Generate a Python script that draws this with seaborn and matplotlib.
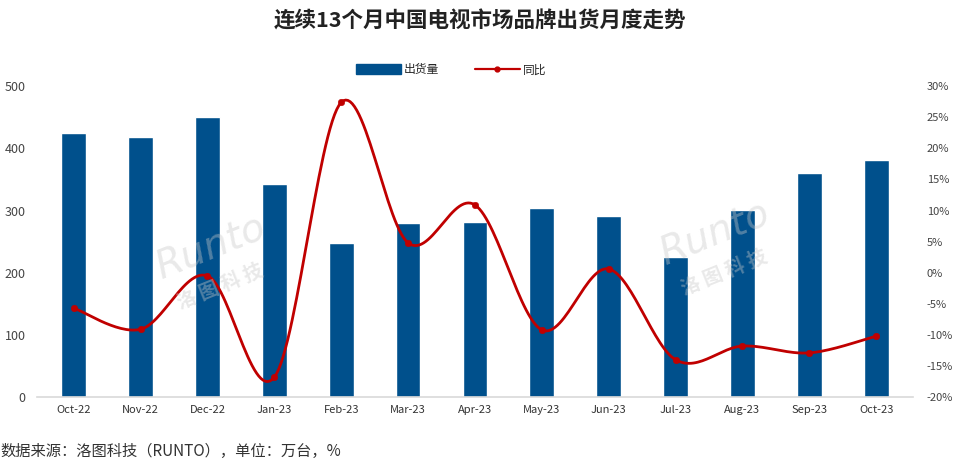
import numpy as np
import pandas as pd
import matplotlib
matplotlib.use("Agg")
import matplotlib.pyplot as plt
from matplotlib.patches import Patch
from matplotlib.lines import Line2D
import seaborn as sns

months = ['Oct-22', 'Nov-22', 'Dec-22', 'Jan-23', 'Feb-23', 'Mar-23', 'Apr-23',
          'May-23', 'Jun-23', 'Jul-23', 'Aug-23', 'Sep-23', 'Oct-23']
shipments = [424, 418, 450, 342, 248, 280, 281, 304, 291, 225, 301, 360, 381]
yoy = [-5.7, -9.1, -0.5, -16.8, 27.4, 4.8, 10.9, -9.2, 0.6, -14.0, -11.8, -12.9, -10.2]

BAR_COLOR = '#00508C'
LINE_COLOR = '#C00000'


def smooth_curve(y, steps=30):
    """Catmull-Rom сглаживание, как у сглаженной линии в Excel"""
    y = np.asarray(y, dtype=float)
    x = np.arange(len(y), dtype=float)
    px = np.concatenate([[x[0]], x, [x[-1]]])
    py = np.concatenate([[y[0]], y, [y[-1]]])
    xs, ys = [], []
    t = np.linspace(0, 1, steps, endpoint=False)
    for i in range(1, len(px) - 2):
        for arr, out in ((px, xs), (py, ys)):
            p0, p1, p2, p3 = arr[i - 1], arr[i], arr[i + 1], arr[i + 2]
            m1 = (p2 - p0) / 2
            m2 = (p3 - p1) / 2
            h00 = 2 * t**3 - 3 * t**2 + 1
            h10 = t**3 - 2 * t**2 + t
            h01 = -2 * t**3 + 3 * t**2
            h11 = t**3 - t**2
            out.extend(h00 * p1 + h10 * m1 + h01 * p2 + h11 * m2)
    xs.append(x[-1])
    ys.append(y[-1])
    return np.array(xs), np.array(ys)


sns.set_style('white')
plt.rcParams['font.family'] = ['Noto Sans CJK SC', 'DejaVu Sans']

df = pd.DataFrame({'月份': months, '出货量': shipments, '同比': yoy})

fig = plt.figure(figsize=(9.6, 4.66), dpi=100)
ax = fig.add_axes([0.0385, 0.148, 0.9125, 0.667])

sns.barplot(data=df, x='月份', y='出货量', color=BAR_COLOR, width=0.37,
            saturation=1, ax=ax, zorder=2)
ax.set_ylim(0, 500)
ax.set_yticks(range(0, 501, 100))
ax.set_xlim(-0.55, len(months) - 0.45)
ax.set_xlabel('')
ax.set_ylabel('')
ax.tick_params(axis='x', labelsize=8, colors='#333333', length=0, pad=6)
ax.tick_params(axis='y', labelsize=9, colors='#444444', length=0, pad=8)
for s in ['top', 'right', 'left']:
    ax.spines[s].set_visible(False)
ax.spines['bottom'].set_color('#D9D9D9')
ax.spines['bottom'].set_linewidth(1.2)

ax2 = ax.twinx()
sx, sy = smooth_curve(yoy)
sns.lineplot(x=sx, y=sy, color=LINE_COLOR, linewidth=2, ax=ax2, sort=False, zorder=3)
sns.scatterplot(x=np.arange(len(months)), y=yoy, color=LINE_COLOR, s=22,
                edgecolor=LINE_COLOR, ax=ax2, zorder=4)
ax2.set_ylim(-20, 30)
ticks = list(range(-20, 31, 5))
ax2.set_yticks(ticks)
ax2.set_yticklabels([f'{t}%' for t in ticks])
ax2.tick_params(axis='y', labelsize=8, colors='#444444', length=0, pad=10)
for s in ['top', 'right', 'left', 'bottom']:
    ax2.spines[s].set_visible(False)

# watermarks
for wx, wy in [(0.22, 0.47), (0.745, 0.5)]:
    fig.text(wx, wy, 'Runto', fontsize=28, color='#C8C8C8', alpha=0.4,
             rotation=22, ha='center', va='center', family='DejaVu Sans',
             style='italic')
    fig.text(wx + 0.01, wy - 0.085, '洛 图 科 技', fontsize=14, color='#C8C8C8',
             alpha=0.4, rotation=22, ha='center', va='center', fontweight='bold')

fig.text(0.5, 0.955, '连续13个月中国电视市场品牌出货月度走势', ha='center', va='center',
         fontsize=15.5, fontweight='bold', color='#222222')

handles = [Patch(facecolor=BAR_COLOR, edgecolor=BAR_COLOR),
           Line2D([0], [0], color=LINE_COLOR, linewidth=1.6, marker='o', markersize=3.5)]
fig.legend(handles, ['出货量', '同比'], loc='center', bbox_to_anchor=(0.47, 0.85),
           ncol=2, frameon=False, fontsize=8.5, handlelength=3.8, handleheight=0.9,
           columnspacing=3, handletextpad=0.3)

fig.text(0.0, 0.032, '数据来源：洛图科技（RUNTO），单位：万台，%', ha='left', va='center',
         fontsize=11, color='#333333')

fig.savefig('out.png', dpi=100)
plt.close(fig)
